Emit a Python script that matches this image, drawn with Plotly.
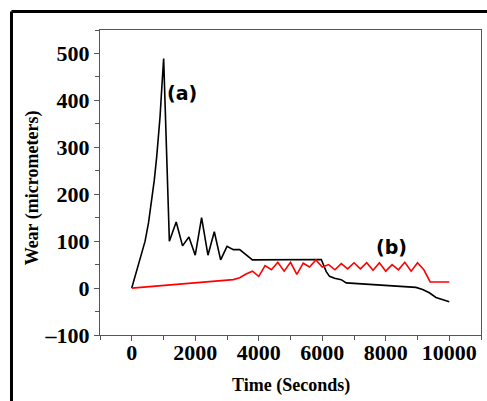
import plotly.graph_objects as go

# Series (a): black
time_a = [0, 200, 420, 530, 630, 710, 785, 840, 890, 940, 975, 1005, 1185, 1400, 1600, 1800,
          2000, 2200, 2400, 2600, 2800, 3000, 3200, 3400, 3800, 5970, 6126, 6230, 6387,
          6597, 6755, 7800, 8950, 9162, 9372, 9582, 9790, 10000]
wear_a = [0, 45, 100, 140, 187, 230, 279, 320, 364, 420, 470, 489, 100, 141, 90, 109,
          70, 150, 70, 120, 60, 89, 82, 82, 60, 61, 35, 25, 21,
          18, 11, 6, 1.5, -3, -10, -20, -25, -29]

# Series (b): red
time_b = [0, 3200, 3400, 3600, 3800, 4000, 4200, 4400, 4600, 4800, 5000, 5200, 5400, 5600,
          5800, 6000, 6200, 6400, 6600, 6800, 7000, 7200, 7400, 7600, 7800, 8000, 8200,
          8400, 8600, 8800, 9000, 9200, 9400, 10000]
wear_b = [0, 18, 22, 30, 36, 25, 48, 39, 55, 36, 55, 29, 53, 45,
          60, 45, 50, 39, 52, 41, 54, 41, 54, 38, 54, 36, 50,
          39, 55, 36, 54, 39, 13, 13]

x_ticks = [0, 2000, 4000, 6000, 8000, 10000]
x_labels = ["0", "2000", "4000", "6000", "8000", "10000"]
y_ticks = [-100, 0, 100, 200, 300, 400, 500]
y_labels = ["\u2013100", "0", "100", "200", "300", "400", "500"]

fig = go.Figure()
fig.add_trace(go.Scatter(x=time_a, y=wear_a, mode="lines",
                         line=dict(color="#000000", width=1.6), showlegend=False))
fig.add_trace(go.Scatter(x=time_b, y=wear_b, mode="lines",
                         line=dict(color="#ff0000", width=1.6), showlegend=False))

tickfont = dict(family="Liberation Serif", size=22, color="#000000", weight="bold")
axis_common = dict(showgrid=False, zeroline=False, showline=True, linecolor="#555555",
                   linewidth=1, mirror=True, ticks="outside", ticklen=5, tickwidth=1,
                   tickcolor="#555555", tickfont=tickfont)

fig.update_xaxes(range=[-1000, 11000], tickvals=x_ticks, ticktext=x_labels,
                 ticklabelstandoff=-7,
                 minor=dict(dtick=1000, tick0=0, ticks="outside", ticklen=4,
                            tickcolor="#555555"),
                 **axis_common)
fig.update_yaxes(range=[-100, 550], tickvals=y_ticks, ticktext=y_labels,
                 minor=dict(dtick=50, tick0=0, ticks="outside", ticklen=4,
                            tickcolor="#555555"),
                 **axis_common)

titlefont = dict(family="Liberation Serif", size=18, color="#000000", weight="bold")
fig.add_annotation(text="Time (Seconds)", xref="paper", yref="paper", x=0.5, y=-0.164,
                   xanchor="center", yanchor="middle", showarrow=False, font=titlefont)
fig.add_annotation(text="Wear (micrometers)", xref="paper", yref="paper", x=-0.1785,
                   y=0.484, xanchor="center", yanchor="middle", textangle=-90,
                   showarrow=False, font=titlefont)

labfont = dict(family="DejaVu Sans", size=19, color="#000000", weight="bold")
fig.add_annotation(text="(a)", x=1580, y=415, showarrow=False, font=labfont)
fig.add_annotation(text="(b)", x=8190, y=87, showarrow=False, font=labfont)

# outer frame (left and top edges)
fig.add_shape(type="line", xref="paper", yref="paper", x0=-0.2323, x1=1.2,
              y0=1.0607, y1=1.0607, line=dict(color="#000000", width=3))
fig.add_shape(type="line", xref="paper", yref="paper", x0=-0.2323, x1=-0.2323,
              y0=-0.3, y1=1.0607, line=dict(color="#000000", width=3))

fig.update_layout(width=487, height=401, margin=dict(l=100, r=6, t=30, b=66),
                  paper_bgcolor="white", plot_bgcolor="white")
fig.write_html("out.html")
